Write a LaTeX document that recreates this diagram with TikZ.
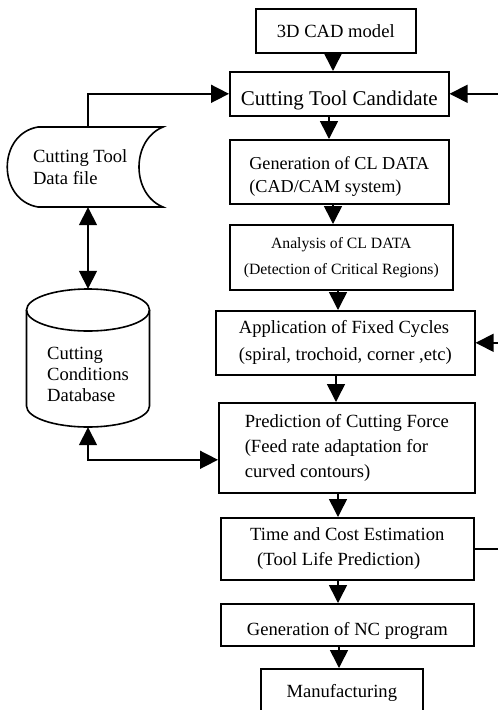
\documentclass[tikz,border=0pt]{standalone}
\usepackage{fontspec}
\setmainfont{Liberation Serif}
\usetikzlibrary{arrows.meta}

\begin{document}
\begin{tikzpicture}[x=1pt, y=-1pt,
    box/.style={draw, line width=1.6pt, anchor=north west, inner sep=2pt,
      font=\fontsize{18.6}{25}\selectfont},
    store/.style={font=\fontsize{18.6}{22}\selectfont, align=left},
    arr/.style={line width=1.6pt, -{Triangle[length=18pt,width=18pt]}},
    arrs/.style={line width=1.6pt,
      {Triangle[length=18pt,width=18pt]}-{Triangle[length=18pt,width=18pt]}},
    link/.style={line width=1.6pt}]
  % page frame (1 unit = 1 px of the page, y downwards)
  \useasboundingbox (0,0) rectangle (498,710);
  \clip (0,0) rectangle (498,710);
  % main column (top left corners)
  \node[box, minimum width=160pt, minimum height=44pt] (cad) at (255,8) {3D CAD model};
  \node[box, minimum width=219pt, minimum height=44pt,
    font=\fontsize{21}{25}\selectfont] (ctc) at (229,71)
    {\rule{0pt}{27pt}Cutting Tool Candidate};
  \node[box, minimum width=219pt, minimum height=64pt, align=left,
    font=\fontsize{18.2}{23}\selectfont] (gencl) at (229,139)
    {\rule{0pt}{23pt}Generation of CL DATA\\(CAD/CAM system)};
  \node[box, minimum width=223pt, minimum height=65pt, align=center,
    font=\fontsize{15.7}{26}\selectfont] (anal) at (229,224)
    {Analysis of CL DATA\\(Detection of Critical Regions)};
  \node[box, minimum width=259pt, minimum height=64pt, align=left,
    font=\fontsize{18.6}{27}\selectfont] (appl) at (215,310)
    {Application of Fixed Cycles\\(spiral, trochoid, corner ,etc)};
  \node[box, minimum width=256pt, minimum height=90pt, align=left] (pred) at (218,402)
    {Prediction of Cutting Force\\(Feed rate adaptation for\\curved contours)};
  \node[box, minimum width=253pt, minimum height=62pt, align=left] (time) at (220,517)
    {Time and Cost Estimation\\\hspace*{7pt}(Tool Life Prediction)};
  \node[box, minimum width=253pt, minimum height=42pt] (nc) at (220,603)
    {\rule{0pt}{26pt}Generation of NC program};
  \node[box, minimum width=162pt, minimum height=48pt] (manu) at (260,668)
    {Manufacturing};
  % stored data: tool data file
  \node[store, align=flush left, text width=110pt, minimum width=155pt,
    minimum height=80pt] (df) at (88,167)
    {Cutting Tool\\Data file};
  \draw[link] (38,127) -- (163,127) .. controls (131,140) and (131,194) .. (163,207)
    -- (38,207) .. controls (-3,200) and (-3,134) .. (38,127);
  % database cylinder
  \def\dbx{88}  % axis
  \def\dbt{289} % top
  \def\dbb{427} % bottom
  \node[store, font=\fontsize{18.6}{21}\selectfont, minimum width=123pt,
    minimum height=138pt] (db) at (\dbx,358)
    {\rule{0pt}{45pt}Cutting\\Conditions\\Database};
  \draw[link] (\dbx,{\dbt+21}) ellipse (61.5pt and 21pt);
  \draw[link] ({\dbx-61.5},{\dbt+21}) -- ({\dbx-61.5},{\dbb-21})
    arc[start angle=180, end angle=360, x radius=61.5pt, y radius=21pt]
    -- ({\dbx+61.5},{\dbt+21});
  % flow down the column
  \foreach \a/\b/\x in {cad/ctc/333, ctc/gencl/329, gencl/anal/333, anal/appl/338,
      appl/pred/336, pred/time/338, time/nc/338, nc/manu/339} {
    \coordinate (ax) at (\x,0);
    \draw[arr] (\a.south -| ax) -- (\b.north -| ax);
  }
  % side links
  \coordinate (edge) at (498,0);
  \draw[arr] (df.north) |- (ctc.west);
  \draw[arr] (ctc.east -| edge) -- (ctc.east);
  \draw[arr] (appl.east -| edge) -- (appl.east);
  \draw[link] (time.east) -- (time.east -| edge);
  \draw[arrs] (df.south) -- (df.south |- db.north);
  \draw[arrs] (db.south) |- ([yshift=-12pt]pred.west);
\end{tikzpicture}
\end{document}
